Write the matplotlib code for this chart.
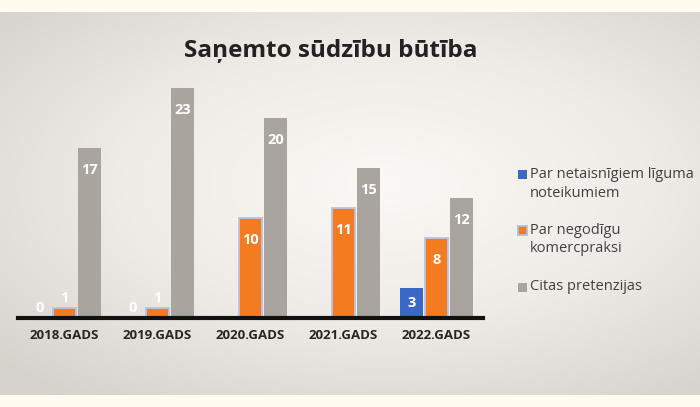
import numpy as np
import matplotlib
matplotlib.use('Agg')
import matplotlib.pyplot as plt
from matplotlib.colors import LinearSegmentedColormap

plt.rcParams['font.family'] = ['Open Sans', 'DejaVu Sans']

# data
years = ['2018.GADS', '2019.GADS', '2020.GADS', '2021.GADS', '2022.GADS']
series_names = ['Par netaisnīgiem līguma\nnoteikumiem', 'Par negodīgu\nkomercpraksi', 'Citas pretenzijas']
netaisnigi = [0, 0, 0, 0, 3]
negodigi = [1, 1, 10, 11, 8]
citas = [17, 23, 20, 15, 12]

colors = ['#3A68C6', '#F47B20', '#A9A49E']

W, H = 700, 407
fig = plt.figure(figsize=(7, 4.07), dpi=100, facecolor='#FFFBF1')

# background with soft radial gradient
bg = fig.add_axes([0, 12 / H, 1, 383 / H])
yy, xx = np.mgrid[0:1:200j, 0:1:350j]
r = np.sqrt(((xx - 0.55) / 0.75) ** 2 + ((yy - 0.45) / 0.7) ** 2)
cmap = LinearSegmentedColormap.from_list('bg', ['#FBF9F5', '#EFEBE6', '#D6D2CC'])
bg.imshow(r, cmap=cmap, aspect='auto', extent=[0, 1, 0, 1], vmin=0, vmax=1)
bg.axis('off')

ax = fig.add_axes([18 / W, 89 / H, 465 / W, 250 / H])
ax.set_facecolor('none')

x = np.arange(len(years))
w = 0.245
off = 0.27
groups = [netaisnigi, negodigi, citas]
for i, (vals, col) in enumerate(zip(groups, colors)):
    pos = x + (i - 1) * off
    if i == 1:
        ax.bar(pos, vals, w, color=col, edgecolor='#B3C6E6', linewidth=1.3, zorder=3)
    else:
        ax.bar(pos, vals, w, color=col, zorder=3)
    for p, v in zip(pos, vals):
        if i == 0 and v == 0 and p > 1.5:
            continue
        if v >= 2:
            ax.text(p, v - 2.2 if v > 4 else v / 2, str(v), ha='center', va='center',
                    color='white', fontsize=10.5, fontweight='bold', zorder=4)
        else:
            ax.text(p, v + 0.3, str(v), ha='center', va='bottom', color='white',
                    fontsize=10.5, fontweight='bold', zorder=4)

ax.set_xlim(-0.5, 4.5)
ax.set_ylim(0, 25)
ax.set_yticks([])
ax.set_xticks(x)
ax.set_xticklabels(years, fontsize=9.5, fontweight='bold', color='#262626')
ax.tick_params(axis='x', length=0, pad=8)
for s in ['top', 'right', 'left']:
    ax.spines[s].set_visible(False)
ax.spines['bottom'].set_color('#111111')
ax.spines['bottom'].set_linewidth(3)
ax.spines['bottom'].set_zorder(5)

fig.text(0.472, 0.875, 'Saņemto sūdzību būtība', ha='center', va='center',
         fontsize=17.5, fontweight='bold', color='#222222')

# legend, drawn by hand so the marker sits on the first text line
item_y = [175, 230, 287]
line_gap = 19
for name, col, yp in zip(series_names, colors, item_y):
    ec = '#A9C0E4' if col == colors[1] else 'none'
    sq = plt.Rectangle((518 / W, (H - yp - 4.5) / H), 9 / W, 9 / H, transform=fig.transFigure,
                       facecolor=col, edgecolor=ec, linewidth=1.3)
    fig.patches.append(sq)
    for k, line in enumerate(name.split('\n')):
        fig.text(530 / W, (H - yp - k * line_gap) / H, line, ha='left', va='center',
                 fontsize=10.5, color='#404040')

fig.savefig('out.png', dpi=100, facecolor=fig.get_facecolor())
